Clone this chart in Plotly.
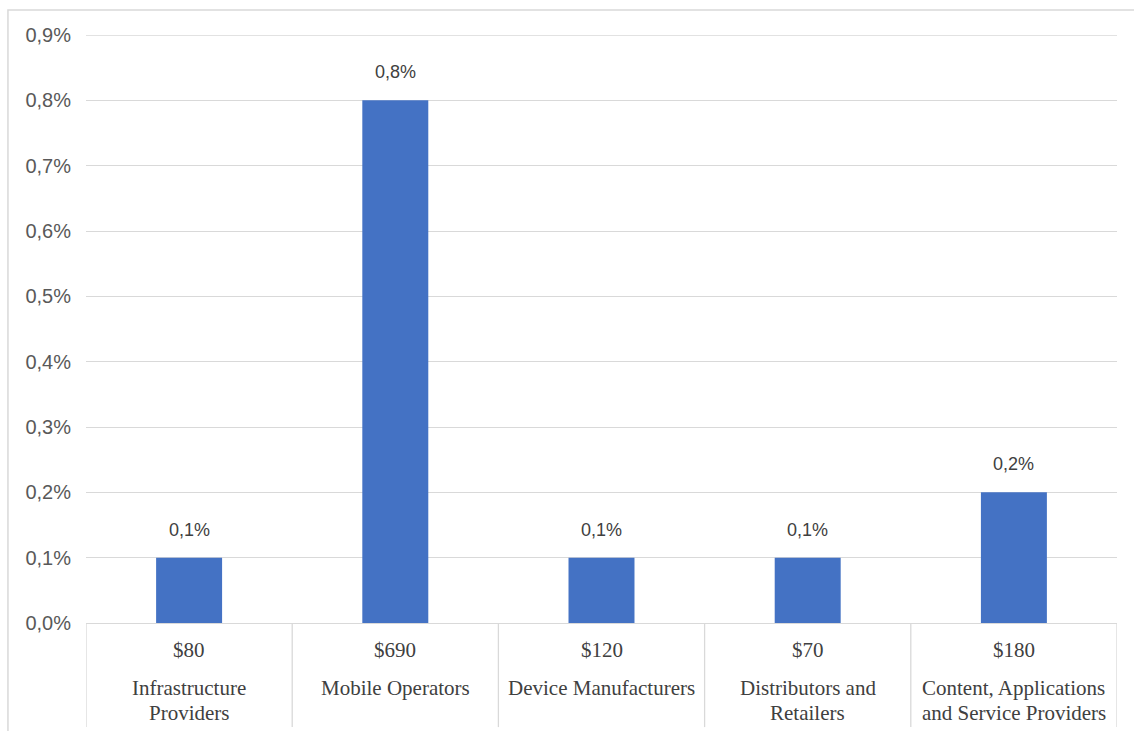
import plotly.graph_objects as go

# Value-chain segments, revenue and share
segments = ["Infrastructure<br>Providers", "Mobile Operators", "Device Manufacturers",
            "Distributors and<br>Retailers", "Content, Applications<br>and Service Providers"]
revenue_labels = ["$80", "$690", "$120", "$70", "$180"]
share_pct = [0.1, 0.8, 0.1, 0.1, 0.2]
y_ticks = [0.0, 0.1, 0.2, 0.3, 0.4, 0.5, 0.6, 0.7, 0.8, 0.9]


def pct_label(v):
    return f"{v:.1f}".replace(".", ",") + "%"


GRID = "#d9d9d9"
BAR = "#4472C4"
SANS = "Liberation Sans, Arial, sans-serif"
SERIF = "Liberation Serif, Times New Roman, serif"

x_pos = list(range(len(segments)))

fig = go.Figure(
    go.Bar(
        x=x_pos,
        y=share_pct,
        width=0.32,
        marker=dict(color=BAR, line=dict(width=0)),
        hoverinfo="skip",
    )
)

annotations = []
# value labels above bars
for i, v in enumerate(share_pct):
    annotations.append(dict(
        x=i, y=v, xref="x", yref="y", text=pct_label(v), showarrow=False,
        yanchor="bottom", yshift=16, font=dict(family=SANS, size=18, color="#404040"),
    ))

# two-level category labels below the axis
for i, (rev, seg) in enumerate(zip(revenue_labels, segments)):
    annotations.append(dict(
        x=i, y=0, xref="x", yref="paper", text=rev, showarrow=False,
        yanchor="middle", yshift=-27, font=dict(family=SERIF, size=21, color="#404040"),
    ))
    lines = seg.split("<br>")
    for j, line in enumerate(lines):
        annotations.append(dict(
            x=i, y=0, xref="x", yref="paper", text=line, showarrow=False,
            yanchor="middle", yshift=-65 - 25 * j,
            font=dict(family=SERIF, size=21, color="#404040"),
        ))

shapes = []
# top gridline at the range maximum
shapes.append(dict(
    type="line", xref="paper", yref="y", x0=0, x1=1, y0=y_ticks[-1], y1=y_ticks[-1],
    line=dict(color=GRID, width=1.3), layer="below",
))
# category divider lines below the axis
for k in range(len(segments) + 1):
    shapes.append(dict(
        type="line", xref="x", yref="paper", x0=k - 0.5, x1=k - 0.5,
        y0=0, y1=-0.177, line=dict(color=GRID, width=1.3),
    ))
# chart-area border
shapes.append(dict(
    type="rect", xref="paper", yref="paper", x0=-0.0757, x1=1.3, y0=-0.4, y1=1.0425,
    line=dict(color=GRID, width=1.5), layer="below",
))

fig.update_layout(
    width=1134,
    height=731,
    margin=dict(l=86, r=17, t=35, b=108),
    paper_bgcolor="white",
    plot_bgcolor="white",
    showlegend=False,
    annotations=annotations,
    shapes=shapes,
    xaxis=dict(
        range=[-0.5, len(segments) - 0.5],
        showticklabels=False,
        showgrid=False,
        zeroline=False,
        showline=False,
        ticks="",
    ),
    yaxis=dict(
        range=[0, 0.9],
        tickvals=y_ticks,
        ticktext=[pct_label(v) for v in y_ticks],
        tickfont=dict(family=SANS, size=20, color="#595959"),
        showgrid=True,
        gridcolor=GRID,
        gridwidth=1.3,
        zeroline=True,
        zerolinecolor=GRID,
        zerolinewidth=1.3,
        showline=False,
        ticks="",
        ticklabelstandoff=14,
    ),
)

fig.write_html("out.html")
